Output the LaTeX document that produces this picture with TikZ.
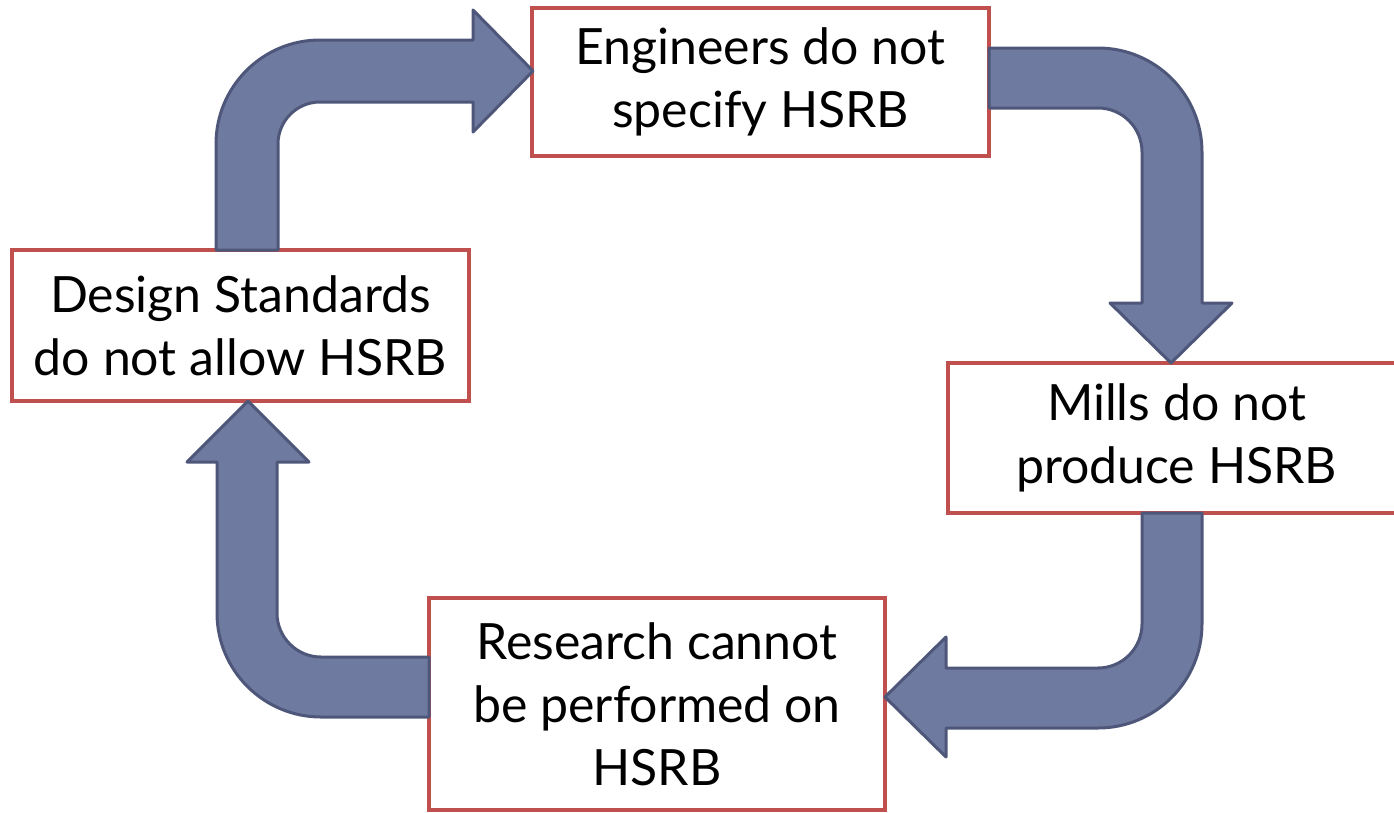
\documentclass[tikz,border=0pt]{standalone}
\usepackage{fontspec}
\setmainfont{Lato}
\definecolor{boxred}{HTML}{C0504D}
\definecolor{arrfill}{HTML}{6F7AA0}
\definecolor{arrline}{HTML}{4E5779}
\begin{document}
\begin{tikzpicture}[x=1pt,y=-1pt,
  box/.style={draw=boxred, line width=4pt, fill=white, align=center, inner sep=0pt,
    font=\fontsize{50}{63}\selectfont},
  bigarrow/.style={fill=arrfill, draw=arrline, line width=3pt, line join=round}]
\useasboundingbox (0,0) rectangle (1394,812);
\begin{scope}
\clip (0,0) rectangle (1394,812);
\node[box, minimum width=457pt, minimum height=148pt] (eng) at (760.5,82) {Engineers do not\\specify HSRB};
\node[box, minimum width=457pt, minimum height=150pt] (mills) at (1176.5,438) {Mills do not\\produce HSRB};
\node[box, minimum width=456pt, minimum height=212pt] (res) at (657,704) {Research cannot\\be performed on\\HSRB};
\node[box, minimum width=457pt, minimum height=151pt] (des) at (240.5,325.5) {Design Standards\\do not allow HSRB};
\end{scope}
% arrow: design standards -> engineers
\draw[bigarrow] (216,250) -- (216,144) arc[start angle=180, end angle=270, radius=104]
  -- (473,40) -- (473,10) -- (533,71) -- (473,132) -- (473,102) -- (320,102)
  arc[start angle=270, end angle=180, radius=42] -- (278,250) -- cycle;
% arrow: engineers -> mills
\draw[bigarrow] (989,48) -- (1098,48) arc[start angle=270, end angle=360, radius=104]
  -- (1202,303) -- (1232,303) -- (1171,363) -- (1110,303) -- (1142,303) -- (1142,152)
  arc[start angle=0, end angle=-90, radius=44] -- (989,108) -- cycle;
% arrow: mills -> research
\draw[bigarrow] (1202,513) -- (1202,624) arc[start angle=0, end angle=90, radius=104]
  -- (946,728) -- (946,757) -- (885,697) -- (946,637) -- (946,668) -- (1098,668)
  arc[start angle=90, end angle=0, radius=44] -- (1142,513) -- cycle;
% arrow: research -> design standards
\draw[bigarrow] (429,717) -- (321,717) arc[start angle=90, end angle=180, radius=104]
  -- (217,462) -- (187,462) -- (248,401) -- (309,462) -- (277,462) -- (277,613)
  arc[start angle=180, end angle=90, radius=44] -- (429,657) -- cycle;
\end{tikzpicture}
\end{document}
